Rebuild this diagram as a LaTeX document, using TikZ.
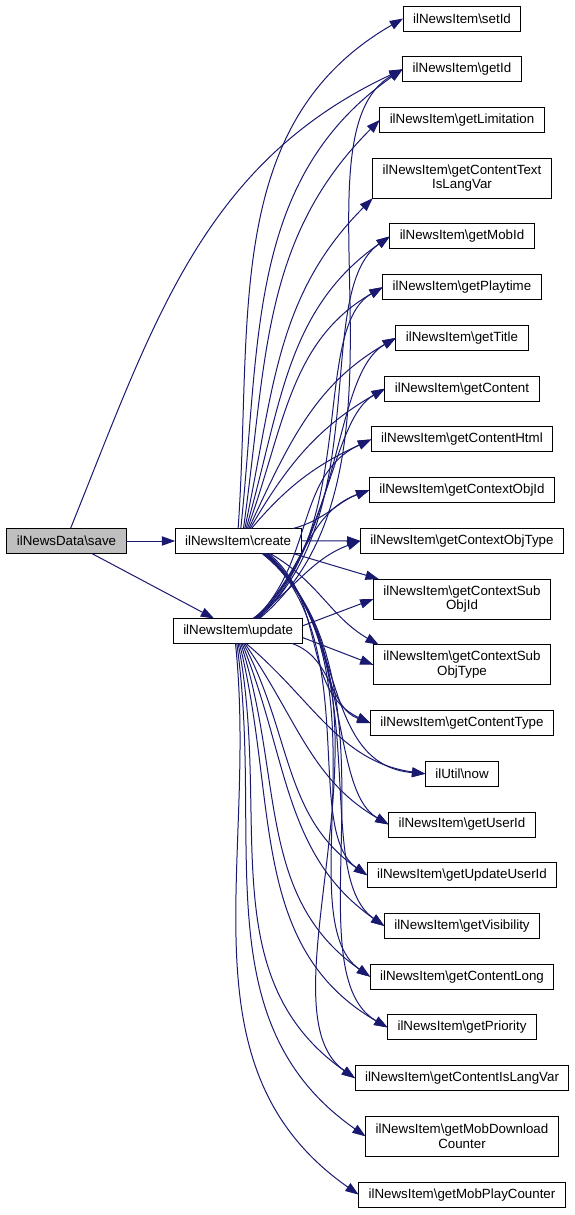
\documentclass[tikz,border=0pt]{standalone}
\usepackage{fontspec}
\setmainfont{Liberation Sans}
\usetikzlibrary{positioning, arrows.meta}
\definecolor{edgeblue}{HTML}{191970}
\definecolor{rootgray}{HTML}{BFBFBF}

\begin{document}
\begin{tikzpicture}
    [
        x=0.75pt, y=0.75pt, node distance=19.3pt,
        func_node/.style={rectangle, draw=black, line width=0.75pt, fill=white, minimum height=18.75pt, inner xsep=7.5pt, inner ysep=2pt, outer sep=0pt, align=center, font=\fontsize{10}{11}\selectfont},
        two_line/.style={minimum height=30pt},
        root_node/.style={func_node, fill=rootgray},
        call_edge/.style={-{Triangle[length=10pt, width=7pt]}, line width=0.75pt, color=edgeblue},
    ]
        \useasboundingbox (0,0) rectangle (575,-1215);
        % callers
        \node[root_node] (save) at (66.5,-541) {ilNewsData\textbackslash save};
        \node[func_node] (create) [right=36.75pt of save] {ilNewsItem\textbackslash create};
        \node[func_node] (update) [below=48.75pt of create] {ilNewsItem\textbackslash update};
        % callees
        \node[func_node] (setId) at (462,-18.5) {ilNewsItem\textbackslash setId};
        \node[func_node] (getId) [below=of setId] {ilNewsItem\textbackslash getId};
        \node[func_node] (limitation) [below=of getId] {ilNewsItem\textbackslash getLimitation};
        \node[func_node, two_line] (textLangVar) [below=of limitation] {ilNewsItem\textbackslash getContentText\\IsLangVar};
        \node[func_node] (mobId) [below=of textLangVar] {ilNewsItem\textbackslash getMobId};
        \node[func_node] (playtime) [below=of mobId] {ilNewsItem\textbackslash getPlaytime};
        \node[func_node] (title) [below=of playtime] {ilNewsItem\textbackslash getTitle};
        \node[func_node] (content) [below=of title] {ilNewsItem\textbackslash getContent};
        \node[func_node] (contentHtml) [below=of content] {ilNewsItem\textbackslash getContentHtml};
        \node[func_node] (ctxObjId) [below=of contentHtml] {ilNewsItem\textbackslash getContextObjId};
        \node[func_node] (ctxObjType) [below=of ctxObjId] {ilNewsItem\textbackslash getContextObjType};
        \node[func_node, two_line] (ctxSubObjId) [below=of ctxObjType] {ilNewsItem\textbackslash getContextSub\\ObjId};
        \node[func_node, two_line] (ctxSubObjType) [below=of ctxSubObjId] {ilNewsItem\textbackslash getContextSub\\ObjType};
        \node[func_node] (contentType) [below=of ctxSubObjType] {ilNewsItem\textbackslash getContentType};
        \node[func_node] (now) [below=of contentType] {ilUtil\textbackslash now};
        \node[func_node] (userId) [below=of now] {ilNewsItem\textbackslash getUserId};
        \node[func_node] (updateUserId) [below=of userId] {ilNewsItem\textbackslash getUpdateUserId};
        \node[func_node] (visibility) [below=of updateUserId] {ilNewsItem\textbackslash getVisibility};
        \node[func_node] (contentLong) [below=of visibility] {ilNewsItem\textbackslash getContentLong};
        \node[func_node] (priority) [below=of contentLong] {ilNewsItem\textbackslash getPriority};
        \node[func_node] (contentLangVar) [below=of priority] {ilNewsItem\textbackslash getContentIsLangVar};
        \node[func_node, two_line] (mobDownload) [below=of contentLangVar] {ilNewsItem\textbackslash getMobDownload\\Counter};
        \node[func_node] (mobPlay) [below=of mobDownload] {ilNewsItem\textbackslash getMobPlayCounter};
        % save
        \draw[call_edge] (save) -- (create);
        \draw[call_edge] ([xshift=19pt]save.south) -- ([xshift=-18pt]update.north);
        \draw[call_edge] ([xshift=3pt]save.north) to[out=68, in=205] (getId.west);
        % create, upwards
        \draw[call_edge] ([xshift=0pt]create.north) to[out=86, in=210] (setId.west);
        \draw[call_edge] ([xshift=2pt]create.north) to[out=84, in=215] (getId.west);
        \draw[call_edge] ([xshift=4pt]create.north) to[out=82, in=225] (limitation.west);
        \draw[call_edge] ([xshift=5pt]create.north) to[out=78, in=225] (textLangVar.south west);
        \draw[call_edge] ([xshift=6pt]create.north) to[out=74, in=215] (mobId.west);
        \draw[call_edge] ([xshift=7pt]create.north) to[out=70, in=210] (playtime.west);
        \draw[call_edge] ([xshift=8pt]create.north) to[out=65, in=210] (title.west);
        \draw[call_edge] ([xshift=9pt]create.north) to[out=60, in=210] (content.west);
        \draw[call_edge] ([xshift=10pt]create.north) to[out=50, in=205] (contentHtml.west);
        \draw[call_edge] ([xshift=-6pt]create.north east) to[out=15, in=200] (ctxObjId.west);
        \draw[call_edge] (create) -- (ctxObjType);
        % create, downwards
        \draw[call_edge] ([xshift=-6pt]create.south east) -- ([xshift=4pt]ctxSubObjId.north west);
        \draw[call_edge] ([xshift=24pt]create.south) to[out=-30, in=150] ([xshift=4pt]ctxSubObjType.north west);
        \draw[call_edge] ([xshift=23pt]create.south) to[out=-40, in=155] (contentType.west);
        \draw[call_edge] ([xshift=22pt]create.south) to[out=-42, in=175] (now.west);
        \draw[call_edge] ([xshift=21pt]create.south) to[out=-42, in=150, in looseness=0.6] (userId.west);
        \draw[call_edge] ([xshift=20pt]create.south) to[out=-42, in=145, in looseness=0.6] (updateUserId.west);
        \draw[call_edge] ([xshift=20pt]create.south) to[out=-41, in=145, in looseness=0.6] (visibility.west);
        \draw[call_edge] ([xshift=19pt]create.south) to[out=-40, in=145, in looseness=0.6] (contentLong.west);
        \draw[call_edge] ([xshift=19pt]create.south) to[out=-40, in=150, in looseness=0.6] (priority.west);
        \draw[call_edge] ([xshift=18pt]create.south) to[out=-39, in=145, in looseness=0.6] (contentLangVar.west);
        % update, upwards
        \draw[call_edge] ([xshift=16pt]update.north) to[out=40, in=210, in looseness=0.6] (getId.west);
        \draw[call_edge] ([xshift=15pt]update.north) to[out=42, in=215, in looseness=0.6] (mobId.west);
        \draw[call_edge] ([xshift=15pt]update.north) to[out=43, in=210, in looseness=0.6] (playtime.west);
        \draw[call_edge] ([xshift=14pt]update.north) to[out=44, in=210, in looseness=0.6] (title.west);
        \draw[call_edge] ([xshift=14pt]update.north) to[out=45, in=210, in looseness=0.6] (content.west);
        \draw[call_edge] ([xshift=13pt]update.north) to[out=45, in=205] (contentHtml.west);
        \draw[call_edge] ([xshift=12pt]update.north) to[out=42, in=200] (ctxObjId.west);
        \draw[call_edge] ([xshift=11pt]update.north) to[out=35, in=200] (ctxObjType.west);
        % update, sideways and downwards
        \draw[call_edge] ([yshift=4pt]update.east) -- (ctxSubObjId.west);
        \draw[call_edge] ([yshift=-5pt]update.east) -- (ctxSubObjType.west);
        \draw[call_edge] ([xshift=-8pt]update.south east) to[out=-20, in=160] (contentType.west);
        \draw[call_edge] ([xshift=6pt]update.south) to[out=-40, in=172] (now.west);
        \draw[call_edge] ([xshift=5pt]update.south) to[out=-55, in=150] (userId.west);
        \draw[call_edge] ([xshift=4pt]update.south) to[out=-62, in=145] (updateUserId.west);
        \draw[call_edge] ([xshift=3pt]update.south) to[out=-68, in=145] (visibility.west);
        \draw[call_edge] ([xshift=2pt]update.south) to[out=-72, in=145] (contentLong.west);
        \draw[call_edge] ([xshift=1pt]update.south) to[out=-76, in=150] (priority.west);
        \draw[call_edge] ([xshift=0pt]update.south) to[out=-79, in=145] (contentLangVar.west);
        \draw[call_edge] ([xshift=-1pt]update.south) to[out=-82, in=145] (mobDownload.west);
        \draw[call_edge] ([xshift=-2pt]update.south) to[out=-84, in=145] (mobPlay.west);
    \end{tikzpicture}
\end{document}
